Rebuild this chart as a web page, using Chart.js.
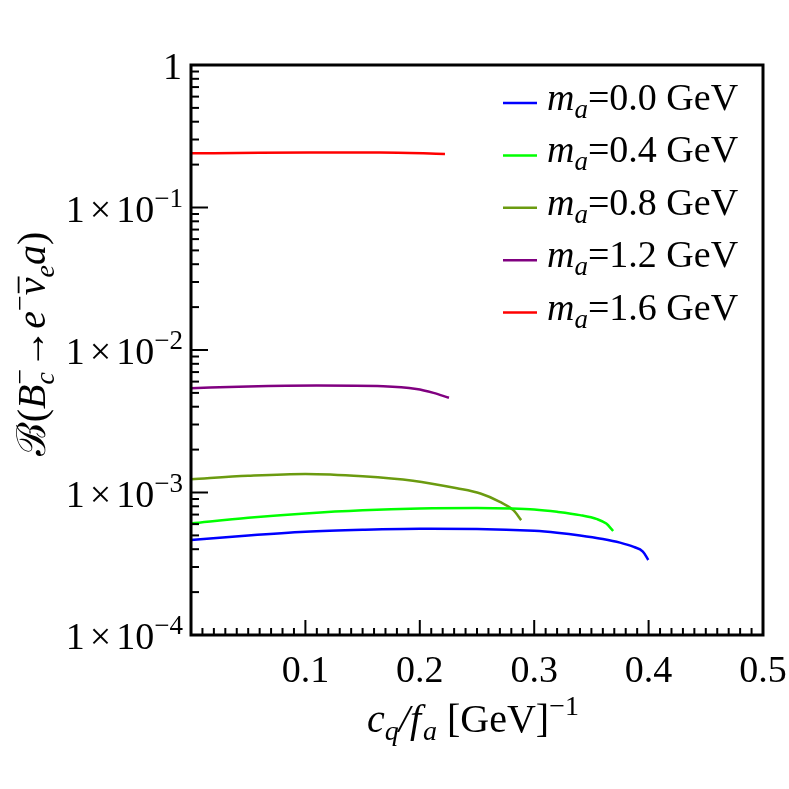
<!DOCTYPE html>
<html>
<head>
<meta charset="utf-8">
<script src="https://cdn.jsdelivr.net/npm/chart.js@4.4.1/dist/chart.umd.min.js"></script>
<style>
  html, body { margin: 0; padding: 0; background: #fff; }
  #wrap { width: 789px; height: 789px; }
</style>
</head>
<body>
<div id="wrap"><canvas id="chart" width="789" height="789"></canvas></div>
<script>
// values
const xMa00 = [0, 0.05, 0.1, 0.15, 0.2, 0.25, 0.3, 0.32, 0.34, 0.36, 0.375, 0.387, 0.395, 0.3997];
const yMa00 = [4.64e-4, 5.0e-4, 5.31e-4, 5.48e-4, 5.57e-4, 5.55e-4, 5.38e-4, 5.22e-4, 5.0e-4, 4.72e-4, 4.45e-4, 4.15e-4, 3.85e-4, 3.36e-4];

const xMa04 = [0, 0.05, 0.1, 0.15, 0.2, 0.25, 0.28, 0.3, 0.32, 0.34, 0.355, 0.363, 0.369];
const yMa04 = [6.07e-4, 6.65e-4, 7.13e-4, 7.5e-4, 7.72e-4, 7.78e-4, 7.72e-4, 7.6e-4, 7.32e-4, 6.94e-4, 6.5e-4, 6.05e-4, 5.37e-4];

const xMa08 = [0, 0.05, 0.1, 0.15, 0.194, 0.2325, 0.253, 0.27, 0.282, 0.2886];
const yMa08 = [1.24e-3, 1.31e-3, 1.35e-3, 1.30e-3, 1.21e-3, 1.07e-3, 9.84e-4, 8.6e-4, 7.5e-4, 6.4e-4];

const xMa12 = [0, 0.05, 0.11, 0.168, 0.197, 0.212, 0.2255];
const yMa12 = [5.40e-3, 5.55e-3, 5.63e-3, 5.57e-3, 5.33e-3, 5.0e-3, 4.62e-3];

const xMa16 = [0, 0.06, 0.12, 0.165, 0.222];
const yMa16 = [0.240, 0.242, 0.243, 0.2436, 0.2375];

const massLabels = ["0.0", "0.4", "0.8", "1.2", "1.6"];
const seriesColors = ["#0000ff", "#00ff00", "#6b9b10", "#800080", "#ff0000"];
const xTickValues = [0.1, 0.2, 0.3, 0.4, 0.5];
const yTickExponents = [0, -1, -2, -3, -4];

const SERIF = '"Liberation Serif", "DejaVu Serif", serif';

function toPoints(xs, ys) {
  return xs.map((x, i) => ({ x, y: ys[i] }));
}

const allX = [xMa00, xMa04, xMa08, xMa12, xMa16];
const allY = [yMa00, yMa04, yMa08, yMa12, yMa16];

const datasets = allX.map((xs, i) => ({
  label: massLabels[i],
  data: toPoints(xs, allY[i]),
  borderColor: seriesColors[i],
  borderWidth: 2.5,
  pointRadius: 0,
  cubicInterpolationMode: "monotone",
  fill: false
}));

function fontFor(p) {
  return (p.i ? "italic " : "") + p.s + "px " + SERIF;
}

// lays out a list of text pieces (italic, size, baseline shift)
function layoutRich(ctx, parts) {
  let x = 0;
  let prevStart = 0;
  const items = [];
  parts.forEach(p => {
    ctx.font = fontFor(p);
    const w = ctx.measureText(p.t).width;
    let start;
    if (p.back) {
      start = prevStart;
      x = Math.max(x, start + w);
    } else {
      start = x + (p.gap || 0);
      prevStart = start;
      x = start + w;
    }
    items.push({ p, start, w });
  });
  return { items, width: x };
}

function drawRich(ctx, parts, x, y, align) {
  const lay = layoutRich(ctx, parts);
  let x0 = x;
  if (align === "center") x0 = x - lay.width / 2;
  if (align === "right") x0 = x - lay.width;
  ctx.fillStyle = "#000";
  ctx.textBaseline = "alphabetic";
  ctx.textAlign = "left";
  lay.items.forEach(({ p, start, w }) => {
    ctx.font = fontFor(p);
    ctx.fillText(p.t, x0 + start, y + (p.dy || 0));
    if (p.over) {
      ctx.save();
      ctx.strokeStyle = "#000";
      ctx.lineWidth = 1.8;
      ctx.beginPath();
      const oy = y + (p.dy || 0) - p.s * 0.66;
      ctx.moveTo(x0 + start + 2, oy);
      ctx.lineTo(x0 + start + w + 1, oy);
      ctx.stroke();
      ctx.restore();
    }
  });
  return lay.width;
}

const framePlugin = {
  id: "frame",
  afterDraw(chart) {
    const ctx = chart.ctx;
    const a = chart.chartArea;
    const xs = chart.scales.x;
    const ys = chart.scales.y;
    ctx.save();

    // x ticks, pointing inwards
    ctx.strokeStyle = "#000";
    ctx.lineWidth = 2;
    for (let k = 1; k < 50; k++) {
      const px = xs.getPixelForValue(k / 100);
      const len = k % 10 === 0 ? 15 : 7;
      ctx.beginPath();
      ctx.moveTo(px, a.bottom);
      ctx.lineTo(px, a.bottom - len);
      ctx.stroke();
    }
    // y ticks
    for (let e = -4; e < 0; e++) {
      for (let m = 1; m <= 9; m++) {
        const v = m * Math.pow(10, e);
        const py = ys.getPixelForValue(v);
        const len = m === 1 ? 17 : 8;
        ctx.beginPath();
        ctx.moveTo(a.left, py);
        ctx.lineTo(a.left + len, py);
        ctx.stroke();
      }
    }

    // frame
    ctx.lineWidth = 3;
    ctx.strokeRect(a.left, a.top, a.right - a.left, a.bottom - a.top);

    // x tick labels
    ctx.fillStyle = "#000";
    ctx.font = "38px " + SERIF;
    ctx.textAlign = "center";
    ctx.textBaseline = "alphabetic";
    xTickValues.forEach(v => {
      ctx.fillText(v.toFixed(1), xs.getPixelForValue(v), a.bottom + 47);
    });

    // y tick labels
    yTickExponents.forEach(e => {
      const py = ys.getPixelForValue(Math.pow(10, e));
      if (e === 0) {
        drawRich(ctx, [{ t: "1", s: 38 }], a.left - 9, py + 14, "right");
      } else {
        drawRich(ctx, [
          { t: "1", s: 38 },
          { t: "\u00d7", s: 38, gap: 5 },
          { t: "10", s: 38, gap: 5 },
          { t: "\u2212" + (-e), s: 27, dy: -15 }
        ], a.left - 8, py + 14, "right");
      }
    });

    // x axis title
    drawRich(ctx, [
      { t: "c", i: true, s: 40 },
      { t: "q", i: true, s: 28, dy: 8 },
      { t: "/", i: true, s: 40 },
      { t: "f", i: true, s: 40 },
      { t: "a", i: true, s: 28, dy: 8, gap: 2 },
      { t: " [GeV]", s: 40 },
      { t: "\u22121", s: 28, dy: -17 }
    ], (a.left + a.right) / 2 - 4, a.bottom + 97, "center");

    // y axis title, rotated
    ctx.save();
    ctx.translate(45, (a.top + a.bottom) / 2 - 6);
    ctx.rotate(-Math.PI / 2);
    drawRich(ctx, [
      { t: "\u212c", s: 40 },
      { t: "(", s: 40 },
      { t: "B", i: true, s: 40 },
      { t: "c", i: true, s: 28, dy: 9 },
      { t: "\u2212", s: 28, dy: -16, back: true },
      { t: "\u2192", s: 40 },
      { t: "e", i: true, s: 40 },
      { t: "\u2212", s: 28, dy: -16 },
      { t: "\u03bd", i: true, s: 40, over: true },
      { t: "e", i: true, s: 28, dy: 9 },
      { t: "a", i: true, s: 40 },
      { t: ")", s: 40 }
    ], 0, 0, "center");
    ctx.restore();

    // legend
    chart.data.datasets.forEach((ds, i) => {
      const ly = 103 + i * 52.4;
      ctx.strokeStyle = ds.borderColor;
      ctx.lineWidth = 2.5;
      ctx.beginPath();
      ctx.moveTo(503, ly);
      ctx.lineTo(537, ly);
      ctx.stroke();
      drawRich(ctx, [
        { t: "m", i: true, s: 38 },
        { t: "a", i: true, s: 27, dy: 8 },
        { t: "=" + ds.label + " GeV", s: 38 }
      ], 547, ly + 7, "left");
    });

    ctx.restore();
  }
};

new Chart(document.getElementById("chart"), {
  type: "line",
  data: { datasets },
  options: {
    responsive: false,
    animation: false,
    layout: { padding: { left: 191, right: 26, top: 65, bottom: 154 } },
    plugins: { legend: { display: false }, tooltip: { enabled: false } },
    scales: {
      x: { type: "linear", min: 0, max: 0.5, display: false },
      y: { type: "logarithmic", min: 1e-4, max: 1, display: false }
    }
  },
  plugins: [framePlugin]
});
</script>
</body>
</html>
